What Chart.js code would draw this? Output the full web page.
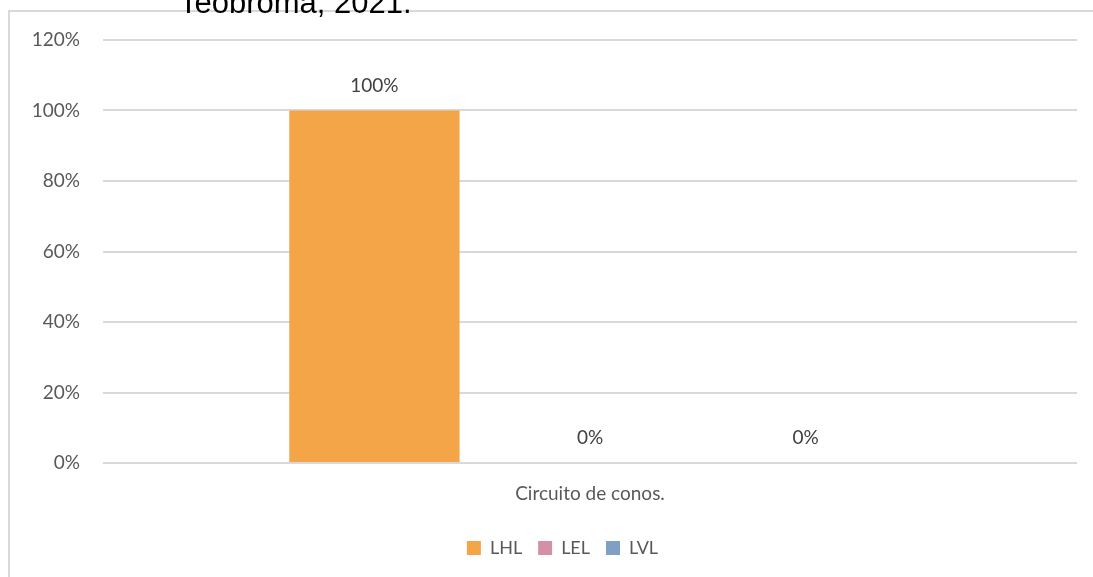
<!DOCTYPE html>
<html>
<head>
<meta charset="utf-8">
<script src="https://cdn.jsdelivr.net/npm/chart.js@4.4.0/dist/chart.umd.min.js"></script>
<style>
    html, body { margin: 0; padding: 0; background: #fff; overflow: hidden; }
    body { width: 1093px; height: 577px; position: relative; }
    #title {
        position: absolute; left: 179px; top: -13px; white-space: nowrap;
        font-family: "Liberation Sans", Arial, sans-serif; font-size: 31px; line-height: 31px; color: #000;
    }
    #wrap { position: absolute; left: 0; top: 0; width: 1125px; height: 577px; }
</style>
</head>
<body>
<div id="wrap"><canvas id="barChart"></canvas></div>
<div id="title">Teobroma, 2021.</div>
<script>
const categories = ['Circuito de conos.'];
const seriesNames = ['LHL', 'LEL', 'LVL'];
const lhlValues = [100];
const lelValues = [0];
const lvlValues = [0];
const yMax = 120;
const yStep = 20;

const seriesColors = ['#f3a548', '#d291a7', '#7f9fc5'];
const textColor = '#595959';

// light grey frame of the chart object (only left and top edges are in view)
const chartFrame = {
    id: 'chartFrame',
    beforeDraw(chart) {
        const ctx = chart.ctx;
        ctx.save();
        ctx.strokeStyle = '#d9d9d9';
        ctx.lineWidth = 2;
        ctx.beginPath();
        ctx.moveTo(9, chart.height);
        ctx.lineTo(9, 11);
        ctx.lineTo(chart.width, 11);
        ctx.stroke();
        ctx.restore();
    },
    // Excel centres the legend on the whole chart object, a bit right of the plot
    afterLayout(chart) {
        chart.legend.left += 24;
        chart.legend.right += 24;
    }
};

// draws the value above each bar, like the Excel data labels
const valueLabels = {
    id: 'valueLabels',
    afterDatasetsDraw(chart) {
        const ctx = chart.ctx;
        ctx.save();
        ctx.font = '19px Lato, "Open Sans", sans-serif';
        ctx.fillStyle = '#404040';
        ctx.textAlign = 'center';
        ctx.textBaseline = 'middle';
        chart.data.datasets.forEach((ds, i) => {
            chart.getDatasetMeta(i).data.forEach((bar, j) => {
                ctx.fillText(ds.data[j] + '%', bar.x, bar.y - 25);
            });
        });
        ctx.restore();
    }
};

const ctx = document.getElementById('barChart').getContext('2d');
const chart = new Chart(ctx, {
    type: 'bar',
    data: {
        labels: categories,
        datasets: [
            { label: seriesNames[0], data: lhlValues, backgroundColor: seriesColors[0] },
            { label: seriesNames[1], data: lelValues, backgroundColor: seriesColors[1] },
            { label: seriesNames[2], data: lvlValues, backgroundColor: seriesColors[2] }
        ]
    },
    options: {
        responsive: true,
        maintainAspectRatio: false,
        animation: false,
        categoryPercentage: 0.664,
        barPercentage: 0.79,
        layout: {
            padding: { left: 0, right: 48, top: 40, bottom: 10 }
        },
        plugins: {
            tooltip: { enabled: false },
            legend: {
                position: 'bottom',
                labels: {
                    boxWidth: 14,
                    boxHeight: 14,
                    padding: 16,
                    color: textColor,
                    font: { family: 'Lato, "Open Sans", sans-serif', size: 18 }
                }
            }
        },
        scales: {
            x: {
                grid: { display: false },
                border: { display: false },
                ticks: {
                    padding: 11,
                    color: textColor,
                    font: { family: 'Lato, "Open Sans", sans-serif', size: 19 }
                },
                afterFit(scale) { scale.height = 60; }
            },
            y: {
                min: 0,
                max: yMax,
                border: { display: false },
                grid: { color: '#d9d9d9', lineWidth: 2, drawTicks: false },
                ticks: {
                    stepSize: yStep,
                    padding: 23,
                    color: textColor,
                    font: { family: 'Lato, "Open Sans", sans-serif', size: 19 },
                    callback: (value) => value + '%'
                },
                afterFit(scale) { scale.width = 103; }
            }
        }
    },
    plugins: [chartFrame, valueLabels]
});
</script>
</body>
</html>
